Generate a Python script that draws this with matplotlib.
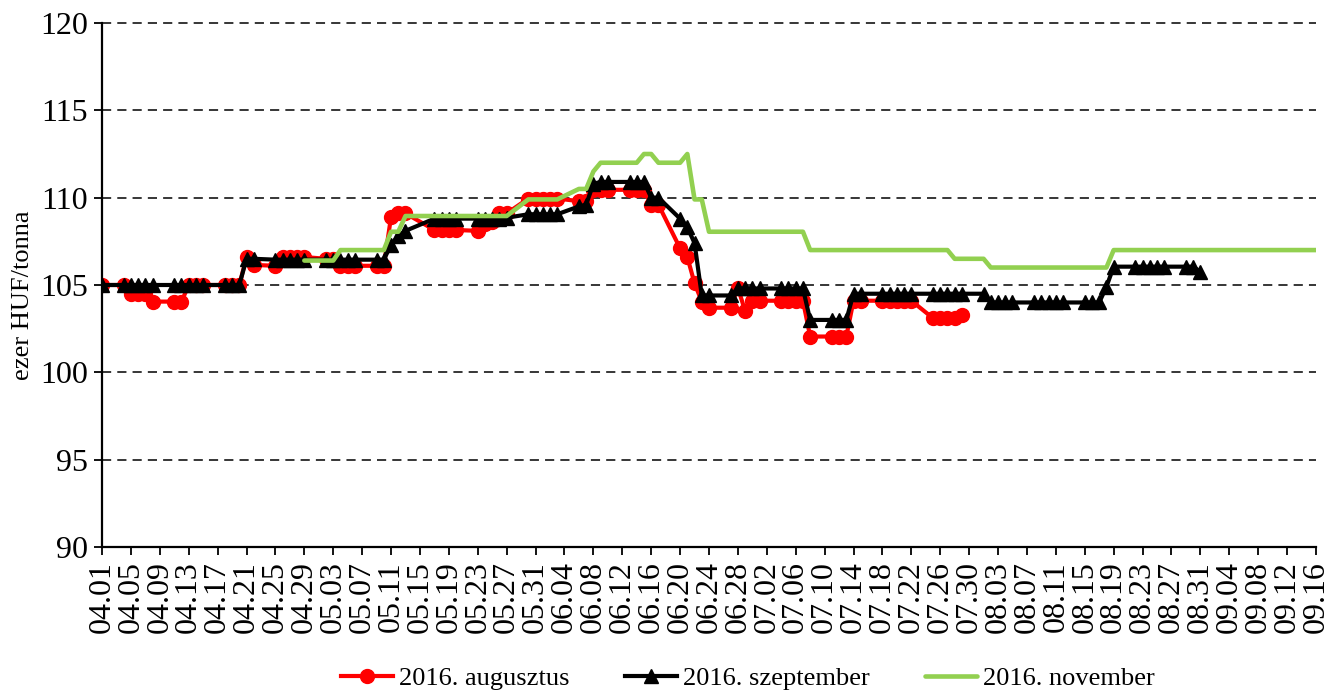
import numpy as np
import pandas as pd
import matplotlib
matplotlib.use("Agg")
import matplotlib.pyplot as plt

plt.rcParams['font.family'] = ['Liberation Serif', 'DejaVu Serif']

# trading days (weekdays, Whit Monday 2016-05-16 closed)
holidays = ['2016-05-16']
trading_days = [d for d in pd.bdate_range('2016-04-01', '2016-09-16') if d.strftime('%Y-%m-%d') not in holidays]

series_names = ['2016. augusztus', '2016. szeptember', '2016. november']

aug_start = '2016-04-01'
aug_values = [
    105.0,
    105.0, 104.5, 104.5, 104.5, 104.05,
    104.05, 104.05, 105.0, 105.0, 105.0,
    105.0, 105.0, 105.0, 106.6, 106.15,
    106.1, 106.6, 106.6, 106.6, 106.6,
    106.5, 106.5, 106.1, 106.1, 106.1,
    106.1, 106.1, 108.9, 109.1, 109.1,
    108.15, 108.15, 108.15, 108.15,
    108.1, 108.5, 108.6, 109.1, 109.1,
    109.95, 109.95, 109.95, 109.95, 109.95,
    109.8, 109.8, 110.45, 110.45, 110.45,
    110.45, 110.45, 110.45, 109.6, 109.6,
    107.1, 106.6, 105.1, 104.05, 103.7,
    103.7, 104.85, 103.5, 104.1, 104.1,
    104.1, 104.1, 104.1, 104.1, 102.05,
    102.05, 102.05, 102.05, 104.1, 104.1,
    104.1, 104.1, 104.1, 104.1, 104.1,
    103.1, 103.1, 103.1, 103.1, 103.3,
]

sep_start = '2016-04-01'
sep_values = [
    105.0,
    105.0, 105.0, 105.0, 105.0, 105.0,
    105.0, 105.0, 105.0, 105.0, 105.0,
    105.0, 105.0, 105.0, 106.5, 106.5,
    106.45, 106.45, 106.45, 106.45, 106.45,
    106.45, 106.45, 106.45, 106.45, 106.45,
    106.45, 106.45, 107.3, 107.8, 108.1,
    108.8, 108.8, 108.8, 108.8,
    108.8, 108.8, 108.8, 108.8, 108.85,
    109.05, 109.05, 109.05, 109.05, 109.05,
    109.5, 109.6, 110.8, 110.9, 110.9,
    110.9, 110.9, 110.9, 110.0, 110.0,
    108.8, 108.3, 107.4, 104.4, 104.4,
    104.4, 104.8, 104.8, 104.8, 104.8,
    104.8, 104.8, 104.8, 104.8, 103.0,
    103.0, 103.0, 103.0, 104.5, 104.5,
    104.5, 104.5, 104.5, 104.5, 104.5,
    104.5, 104.5, 104.5, 104.5, 104.5,
    104.5, 104.0, 104.0, 104.0, 104.0,
    104.0, 104.0, 104.0, 104.0, 104.0,
    104.0, 104.0, 104.0, 104.9, 106.05,
    106.05, 106.05, 106.05, 106.05, 106.05,
    106.05, 106.05, 105.75,
]

nov_start = '2016-04-29'
nov_values = [
    106.4,
    106.4, 106.4, 107.0, 107.0, 107.0,
    107.0, 107.0, 108.05, 108.05, 108.95,
    108.95, 108.95, 108.95, 108.95,
    108.95, 108.95, 108.95, 108.95, 108.95,
    109.9, 109.9, 109.9, 109.9, 109.9,
    110.5, 110.5, 111.5, 112.0, 112.0,
    112.0, 112.0, 112.5, 112.5, 112.0,
    112.0, 112.5, 109.9, 109.9, 108.05,
    108.05, 108.05, 108.05, 108.05, 108.05,
    108.05, 108.05, 108.05, 108.05, 107.0,
    107.0, 107.0, 107.0, 107.0, 107.0,
    107.0, 107.0, 107.0, 107.0, 107.0,
    107.0, 107.0, 107.0, 106.5, 106.5,
    106.5, 106.0, 106.0, 106.0, 106.0,
    106.0, 106.0, 106.0, 106.0, 106.0,
    106.0, 106.0, 106.0, 106.0, 107.0,
    107.0, 107.0, 107.0, 107.0, 107.0,
    107.0, 107.0, 107.0, 107.0, 107.0,
    107.0, 107.0, 107.0, 107.0, 107.0,
    107.0, 107.0, 107.0, 107.0, 107.0,
]

x_start = pd.Timestamp('2016-04-01')
x_end = pd.Timestamp('2016-09-16')
tick_step_days = 4
y_ticks = [90, 95, 100, 105, 110, 115, 120]
y_label = 'ezer HUF/tonna'


def series_xy(start, values):
    i0 = trading_days.index(pd.Timestamp(start))
    ds = trading_days[i0:i0 + len(values)]
    x = np.array([(d - x_start).days for d in ds], dtype=float)
    return x, np.array(values, dtype=float)


fig = plt.figure(figsize=(13.3, 6.94), dpi=100)
ax = fig.add_axes([102 / 1330, 1 - 547 / 694, (1316 - 102) / 1330, (547 - 23) / 694])

xa, ya = series_xy(aug_start, aug_values)
xs, ys = series_xy(sep_start, sep_values)
xn, yn = series_xy(nov_start, nov_values)

ax.plot(xa, ya, color='#FF0000', lw=3.0, marker='o', ms=10, mec='#FF0000', mfc='#FF0000',
        label=series_names[0], zorder=3, solid_joinstyle='round')
ax.plot(xs, ys, color='#000000', lw=3.0, marker='^', ms=10, mec='#000000', mfc='#000000',
        label=series_names[1], zorder=4, solid_joinstyle='round')
ax.plot(xn, yn, color='#92D050', lw=3.3, label=series_names[2], zorder=5,
        solid_joinstyle='round', solid_capstyle='round')

total_days = (x_end - x_start).days
ax.set_xlim(0, total_days)
ax.set_ylim(90, 120)
ticks = list(range(0, total_days + 1, tick_step_days))
ax.set_xticks(ticks)
ax.set_xticklabels([(x_start + pd.Timedelta(days=t)).strftime('%m.%d') for t in ticks],
                   rotation=90, fontsize=23)
ax.set_yticks(y_ticks)
ax.set_yticklabels([str(v) for v in y_ticks], fontsize=23)
ax.tick_params(axis='both', direction='out', length=6, width=1.3, colors='black')
ax.tick_params(axis='x', pad=4)
ax.tick_params(axis='y', pad=4)

for v in y_ticks[1:]:
    ax.axhline(v, color='black', lw=1.1, ls=(0, (6, 4)), zorder=1, clip_on=False)

for s in ['top', 'right']:
    ax.spines[s].set_visible(False)
for s in ['left', 'bottom']:
    ax.spines[s].set_linewidth(1.6)
    ax.spines[s].set_zorder(6)

ax.set_ylabel(y_label, fontsize=19)
ax.yaxis.set_label_coords(-0.056, 0.48)

fig.legend(loc='center', bbox_to_anchor=(0.5624, 0.022), ncol=3, frameon=False,
           fontsize=19, handlelength=1.97, handletextpad=0.23, columnspacing=2.1)

fig.savefig('out.png', dpi=100)
